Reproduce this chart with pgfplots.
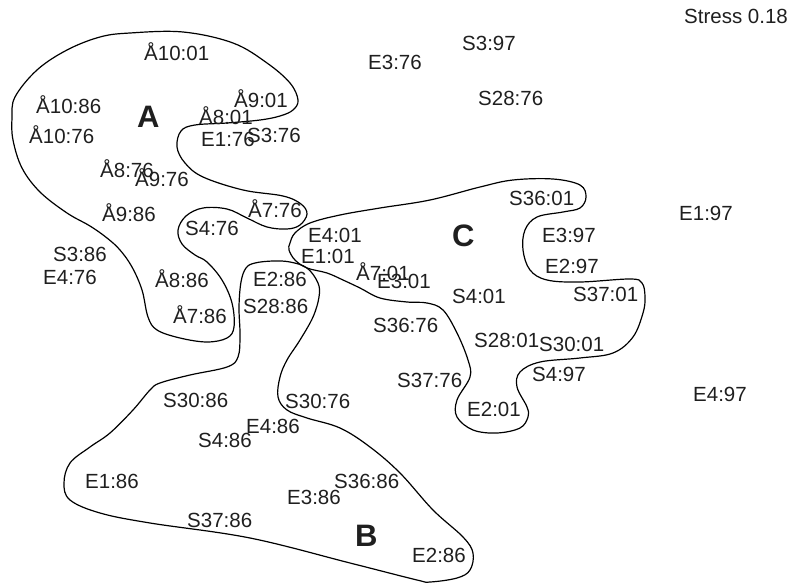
\documentclass[border=0pt]{standalone}
\usepackage{pgfplots}
\pgfplotsset{compat=1.18}
\usepackage{fontspec}
\setmainfont{Liberation Sans}
\begin{document}
\begin{tikzpicture}
\begin{axis}[
  scale only axis, width=794pt, height=585pt,
  xmin=0, xmax=794, ymin=0, ymax=585, y dir=reverse,
  hide axis, clip=false,
]
\addplot[draw=none, forget plot] coordinates {(0,0) (794,585)};
\addplot[only marks, mark size=0pt, mark options={draw=none,fill=none},
  nodes near coords, point meta=explicit symbolic,
  every node near coord/.style={anchor=base west, inner sep=0pt, font=\fontsize{20.5}{24}\selectfont, text=black!88}]
  table[meta=label] {
x y label
144 61 Å10:01
36 114 Å10:86
29 144 Å10:76
234 108 Å9:01
199 125 Å8:01
201 147 E1:76
247 143 S3:76
100 178 Å8:76
135 187 Å9:76
102 222 Å9:86
248 218 Å7:76
185 236 S4:76
509 206 S36:01
308 242 E4:01
542 242 E3:97
301 263 E1:01
545 273 E2:97
356 280 Å7:01
377 288 E3:01
452 303 S4:01
573 301 S37:01
373 332 S36:76
474 347 S28:01
539 351 S30:01
532 381 S4:97
397 387 S37:76
467 416 E2:01
285 408 S30:76
53 261 S3:86
43 284 E4:76
155 287 Å8:86
253 286 E2:86
243 313 S28:86
173 323 Å7:86
163 407 S30:86
246 433 E4:86
198 447 S4:86
85 488 E1:86
334 488 S36:86
287 504 E3:86
187 527 S37:86
412 562 E2:86
462 51 S3:97
368 70 E3:76
478 106 S28:76
679 221 E1:97
693 401 E4:97
};
% outline A
\addplot[black, line width=1.2pt, smooth cycle, tension=0.6] coordinates {
(130,33) (183,32) (233,43) (267,63) (290,83) (298,100) (293,110) (280,116) (260,120) (227,123) (195,125) (181,131) (177,147) (185,163) (203,177) (243,190) (283,196) (301,204) (307,214) (300,225) (287,229) (267,227) (247,218) (227,209) (203,208) (186,216) (178,230) (182,244) (195,255) (207,262) (222,280) (232,303) (234,327) (227,338) (207,342) (180,338) (157,330) (148,317) (142,290) (132,267) (120,250) (107,238) (90,226) (67,213) (40,192) (22,168) (13,140) (12,118) (15,97) (37,70) (67,50) (100,37)
};
% outline C
\addplot[black, line width=1.2pt, smooth cycle, tension=0.6] coordinates {
(290,243) (295,233) (310,223) (340,215) (380,208) (430,200) (480,187) (513,180) (553,179) (580,185) (586,197) (580,208) (563,212) (537,217) (525,230) (523,250) (530,270) (547,280) (580,282) (630,279) (642,283) (645,297) (643,313) (633,337) (613,353) (580,358) (540,362) (520,372) (517,387) (527,407) (528,417) (520,428) (497,433) (473,430) (457,417) (457,400) (470,377) (468,360) (457,333) (443,310) (427,303) (407,302) (380,298) (360,288) (343,280) (327,273) (307,268) (295,260) (289,250)
};
% outline B
\addplot[black, line width=1.2pt, smooth cycle, tension=0.6] coordinates {
(255,263) (273,261) (290,262) (307,268) (318,283) (319,297) (313,317) (300,340) (287,360) (280,377) (278,397) (287,410) (307,418) (340,428) (370,447) (400,473) (433,510) (463,537) (473,553) (470,570) (457,578) (430,582) (417,580) (350,563) (250,538) (150,523) (100,513) (70,500) (64,483) (70,463) (90,447) (110,433) (133,410) (150,390) (160,383) (190,375) (227,367) (238,357) (240,335) (239,307) (241,282) (246,268)
};
\node[anchor=base west, inner sep=0pt, font=\fontsize{31}{36}\selectfont\bfseries, text=black!88] at (axis cs:137,128) {A};
\node[anchor=base west, inner sep=0pt, font=\fontsize{31}{36}\selectfont\bfseries, text=black!88] at (axis cs:452,246) {C};
\node[anchor=base west, inner sep=0pt, font=\fontsize{31}{36}\selectfont\bfseries, text=black!88] at (axis cs:355,546) {B};
\node[anchor=base west, inner sep=0pt, font=\fontsize{20.5}{24}\selectfont, text=black!88] at (axis cs:684,24) {Stress 0.18};
\end{axis}
\end{tikzpicture}
\end{document}
